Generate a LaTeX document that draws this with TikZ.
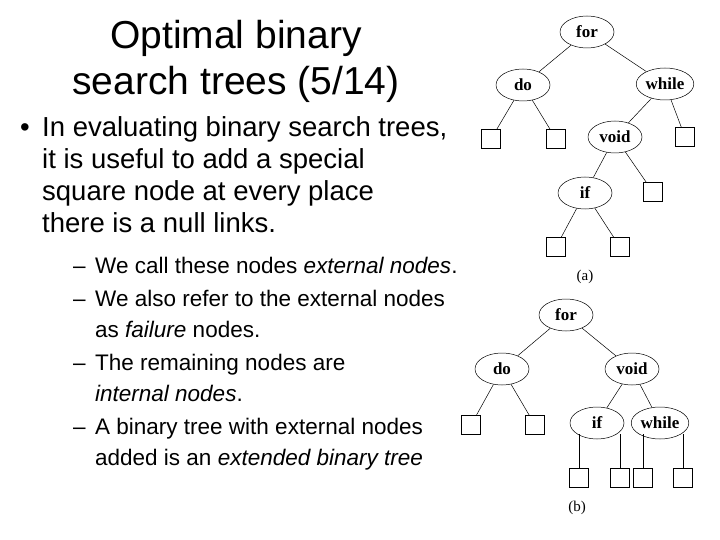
\documentclass[tikz,border=0pt]{standalone}
\usepackage{fontspec}
\setmainfont{Liberation Sans}
\newfontfamily\treefont{Liberation Serif}
\usetikzlibrary{shapes.geometric}
\begin{document}
\begin{tikzpicture}[x=1pt,y=-1pt,
  inn/.style={ellipse,draw,line width=0.5pt,minimum width=54pt,minimum height=32pt,inner sep=1pt,font=\treefont\bfseries\fontsize{17}{17}\selectfont},
  ext/.style={rectangle,draw,line width=0.5pt,minimum size=19pt,inner sep=0pt},
  edge/.style={line width=0.5pt},
  txt/.style={anchor=base west,inner sep=0pt},
  big/.style={txt,font=\fontsize{27.5}{27.5}\selectfont},
  sml/.style={txt,font=\fontsize{22.5}{22.5}\selectfont}]
\useasboundingbox (0,0) rectangle (720,540);
% title
\node[anchor=base,inner sep=0pt,font=\fontsize{39}{39}\selectfont] (t1) at (236,49) {Optimal binary};
\node[anchor=base,inner sep=0pt,font=\fontsize{39}{39}\selectfont] (t2) at (236,95) {search trees (5/14)};
% bullets
\node[big] (b0) at (20,137) {•};
\node[big] (b1) at (42,137) {In evaluating binary search trees,};
\node[big] (b2) at (42,169) {it is useful to add a special};
\node[big] (b3) at (42,201) {square node at every place};
\node[big] (b4) at (42,233) {there is a null links.};
\node[sml] (d1) at (73,273) {–};
\node[sml] (s1) at (95,273) {We call these nodes \textit{external nodes}.};
\node[sml] (d2) at (73,306) {–};
\node[sml] (s2) at (95,306) {We also refer to the external nodes};
\node[sml] (s3) at (95,337) {as \textit{failure} nodes.};
\node[sml] (d3) at (73,370) {–};
\node[sml] (s4) at (95,370) {The remaining nodes are};
\node[sml] (s5) at (95,401) {\textit{internal nodes}.};
\node[sml] (d4) at (73,434) {–};
\node[sml] (s6) at (95,434) {A binary tree with external nodes};
\node[sml] (s7) at (95,465) {added is an \textit{extended binary tree}};
% tree (a)
\node[inn] (afor) at (587,32) {for};
\node[inn] (ado) at (523,85) {do};
\node[inn] (awhile) at (665,84) {while};
\node[inn] (avoid) at (615,137) {void};
\node[inn] (aif) at (585,193) {if};
\node[ext] (ae1) at (491,139) {};
\node[ext] (ae2) at (556,139) {};
\node[ext] (ae3) at (685,137) {};
\node[ext] (ae4) at (653,192) {};
\node[ext] (ae5) at (556,247) {};
\node[ext] (ae6) at (620,247) {};
\draw[edge] (afor) -- (ado); \draw[edge] (afor) -- (awhile);
\draw[edge] (ado) -- (ae1); \draw[edge] (ado) -- (ae2);
\draw[edge] (awhile) -- (avoid); \draw[edge] (awhile) -- (ae3);
\draw[edge] (avoid) -- (aif); \draw[edge] (avoid) -- (ae4);
\draw[edge] (aif) -- (ae5); \draw[edge] (aif) -- (ae6);
\node[font=\treefont\fontsize{15}{15}\selectfont] (la) at (585,277) {(a)};
% tree (b)
\node[inn] (bfor) at (566,315) {for};
\node[inn] (bdo) at (502,369) {do};
\node[inn] (bvoid) at (632,369) {void};
\node[inn] (bif) at (597,423) {if};
\node[inn] (bwhile) at (660,423) {while};
\node[ext] (be1) at (471,425) {};
\node[ext] (be2) at (535,425) {};
\node[ext] (be3) at (579,478) {};
\node[ext] (be4) at (620,478) {};
\node[ext] (be5) at (643,478) {};
\node[ext] (be6) at (683,478) {};
\draw[edge] (bfor) -- (bdo); \draw[edge] (bfor) -- (bvoid);
\draw[edge] (bdo) -- (be1); \draw[edge] (bdo) -- (be2);
\draw[edge] (bvoid) -- (bif); \draw[edge] (bvoid) -- (bwhile);
\draw[edge] (be3.north) -- (be3.north |- bif.south west);
\draw[edge] (be4.north) -- (be4.north |- bif.south east);
\draw[edge] (be5.north) -- (be5.north |- bwhile.south west);
\draw[edge] (be6.north) -- (be6.north |- bwhile.south east);
\node[font=\treefont\fontsize{15}{15}\selectfont] (lb) at (577,508) {(b)};
\end{tikzpicture}
\end{document}
